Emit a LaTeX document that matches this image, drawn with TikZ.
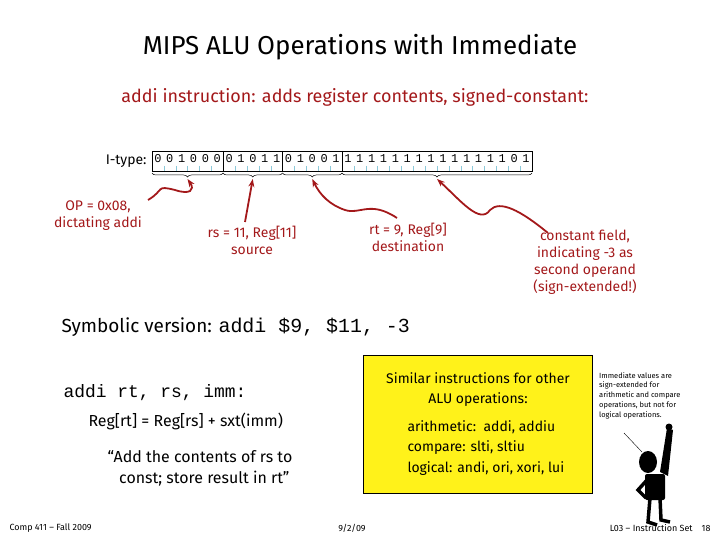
\documentclass[tikz,border=0pt]{standalone}
\usepackage{fontspec}
\setmainfont{Fira Sans}
\setmonofont{Liberation Mono}
\usetikzlibrary{decorations.pathreplacing,arrows.meta}
\definecolor{dred}{HTML}{A3181A}
\definecolor{tick}{HTML}{8CC8D8}
\definecolor{yel}{HTML}{FFF21A}
\begin{document}
\begin{tikzpicture}[x=1bp,y=-1bp,
  lbl/.style={text=dred,align=center,font=\fontsize{14}{17}\selectfont},
  arr/.style={draw=dred,line width=1.8pt,-{Stealth[length=8pt]}},
  brc/.style={decorate,decoration={brace,mirror,amplitude=4pt},line width=0.5pt},
  bit/.style={font=\ttfamily\fontsize{12}{12}\selectfont,inner sep=0pt},
  txt/.style={font=\fontsize{16}{21}\selectfont,align=center}]
\useasboundingbox (0,0) rectangle (720,540);
\node[font=\fontsize{26}{28}\selectfont] (title) at (360,47) {MIPS ALU Operations with Immediate};
\node[text=dred,font=\fontsize{18}{20}\selectfont] (sub) at (355,97) {addi instruction: adds register contents, signed-constant:};
\node[anchor=east,font=\fontsize{14}{14}\selectfont] (itype) at (150,161) {I-type:};
\draw (152,151) rectangle (532,171);
\foreach \x in {223,282.5,342} \draw (\x,151) -- (\x,171);
\foreach \i in {1,...,31} {\ifnum\i=6\else\ifnum\i=11\else\ifnum\i=16\else
  \draw[tick] (152+\i*11.875,166) -- (152+\i*11.875,171);\fi\fi\fi}
\foreach \b [count=\i from 0] in {0,0,1,0,0,0,0,1,0,1,1,0,1,0,0,1,1,1,1,1,1,1,1,1,1,1,1,1,1,1,0,1}
  \node[bit] (b\i) at (152+\i*11.875+5.9,159) {\b};
\draw[brc] (152,173) -- coordinate[yshift=-6bp] (br1) (223,173);
\draw[brc] (223,173) -- coordinate[yshift=-6bp] (br2) (282.5,173);
\draw[brc] (282.5,173) -- coordinate[yshift=-6bp] (br3) (342,173);
\draw[brc] (342,173) -- coordinate[yshift=-6bp] (br4) (532,173);
\node[lbl] (op) at (98,216) {OP = 0x08,\\dictating addi};
\node[lbl] (rs) at (252,240) {rs = 11, Reg[11]\\source};
\node[lbl] (rt) at (408,237) {rt = 9, Reg[9]\\destination};
\node[lbl] (cf) at (585,262) {constant field,\\indicating -3 as\\second operand\\(sign-extended!)};
\draw[arr] (148,200) .. controls (165,190) and (155,185) .. (175,190) .. controls (190,195) and (195,190) .. (br1);
\draw[arr] (245,222) -- (br2);
\draw[arr] (397,218) .. controls (370,200) and (360,215) .. (345,210) .. controls (330,205) and (320,195) .. (br3);
\draw[arr] (548,233) .. controls (520,210) and (500,200) .. (490,210) .. controls (480,225) and (460,200) .. (br4);
\node[anchor=west,font=\fontsize{19}{22}\selectfont] (sym) at (58,327) {Symbolic version: \texttt{\fontsize{20}{22}\selectfont addi \$9, \$11, -3}};
\node[anchor=west,font=\ttfamily\fontsize{18}{20}\selectfont] (code) at (60,393) {addi rt, rs, imm:};
\node[anchor=west,txt] (reg) at (85,421) {Reg[rt] = Reg[rs] + sxt(imm)};
\node[txt] (quote) at (200,468) {“Add the contents of rs to\\ \ \ const; store result in rt”};
\draw[fill=yel] (363,355) rectangle (592,493);
\node[font=\fontsize{14}{20}\selectfont,align=center] (sim) at (478,390) {Similar instructions for other\\ALU operations:};
\node[anchor=west,align=left,font=\fontsize{14}{21}\selectfont] (ar) at (404,448) {arithmetic:\ \ addi, addiu\\compare: slti, sltiu\\logical: andi, ori, xori, lui};
\node[anchor=north west,align=left,font=\fontsize{7.5}{10}\selectfont,inner sep=1pt] (note) at (598,371) {Immediate values are\\sign-extended for\\arithmetic and compare\\operations, but not for\\logical operations.};
% stick figure
\draw (624,433) -- (642,452);
\fill (648,462) ellipse (9 and 11);
\fill (660,472) -- (667,428) -- (673,430) -- (668,476) -- cycle;
\fill (669,427) circle (3.5);
\fill[rounded corners=2] (645,474) rectangle (665,500);
\draw[line width=3.5pt] (650,498) -- (648,522) -- (657,525);
\draw[line width=3.5pt] (660,498) -- (661,520) -- (670,522);
\draw[line width=3.5pt] (647,480) -- (638,490) -- (646,498);
\node[anchor=west,font=\fontsize{9}{10}\selectfont] (f1) at (6,528) {Comp 411 – Fall 2009};
\node[font=\fontsize{9}{10}\selectfont] (f2) at (352,528) {9/2/09};
\node[anchor=east,font=\fontsize{9}{10}\selectfont] (f3) at (714,528) {L03 – Instruction Set\quad 18};
\end{tikzpicture}
\end{document}
